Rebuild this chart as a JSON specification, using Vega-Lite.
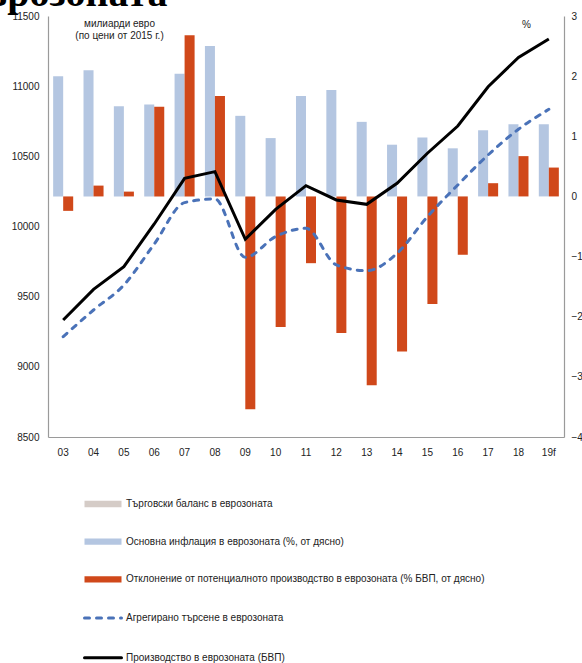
{
  "$schema": "https://vega.github.io/schema/vega-lite/v6.json",
  "autosize": {"type": "none"},
  "padding": {"left": 48, "top": 16, "right": 18, "bottom": 226},
  "width": 516,
  "height": 421,
  "title": {
    "text": "еврозоната",
    "font": "Liberation Serif",
    "fontSize": 40,
    "fontWeight": "bold",
    "color": "#000000",
    "anchor": "start",
    "frame": "group",
    "baseline": "alphabetic",
    "offset": -35,
    "dx": -80
  },
  "datasets": {
    "bars": [
      {"year": "03", "series": "Основна инфлация  в еврозоната (%, от дясно)", "value": 2.0},
      {"year": "04", "series": "Основна инфлация  в еврозоната (%, от дясно)", "value": 2.1},
      {"year": "05", "series": "Основна инфлация  в еврозоната (%, от дясно)", "value": 1.5},
      {"year": "06", "series": "Основна инфлация  в еврозоната (%, от дясно)", "value": 1.53},
      {"year": "07", "series": "Основна инфлация  в еврозоната (%, от дясно)", "value": 2.04},
      {"year": "08", "series": "Основна инфлация  в еврозоната (%, от дясно)", "value": 2.5},
      {"year": "09", "series": "Основна инфлация  в еврозоната (%, от дясно)", "value": 1.34},
      {"year": "10", "series": "Основна инфлация  в еврозоната (%, от дясно)", "value": 0.97},
      {"year": "11", "series": "Основна инфлация  в еврозоната (%, от дясно)", "value": 1.67},
      {"year": "12", "series": "Основна инфлация  в еврозоната (%, от дясно)", "value": 1.77},
      {"year": "13", "series": "Основна инфлация  в еврозоната (%, от дясно)", "value": 1.24},
      {"year": "14", "series": "Основна инфлация  в еврозоната (%, от дясно)", "value": 0.86},
      {"year": "15", "series": "Основна инфлация  в еврозоната (%, от дясно)", "value": 0.98},
      {"year": "16", "series": "Основна инфлация  в еврозоната (%, от дясно)", "value": 0.8},
      {"year": "17", "series": "Основна инфлация  в еврозоната (%, от дясно)", "value": 1.1},
      {"year": "18", "series": "Основна инфлация  в еврозоната (%, от дясно)", "value": 1.2},
      {"year": "19f", "series": "Основна инфлация  в еврозоната (%, от дясно)", "value": 1.2},
      {"year": "03", "series": "Отклонение  от потенциалното  производство в еврозоната (% БВП, от дясно)", "value": -0.24},
      {"year": "04", "series": "Отклонение  от потенциалното  производство в еврозоната (% БВП, от дясно)", "value": 0.18},
      {"year": "05", "series": "Отклонение  от потенциалното  производство в еврозоната (% БВП, от дясно)", "value": 0.08},
      {"year": "06", "series": "Отклонение  от потенциалното  производство в еврозоната (% БВП, от дясно)", "value": 1.49},
      {"year": "07", "series": "Отклонение  от потенциалното  производство в еврозоната (% БВП, от дясно)", "value": 2.68},
      {"year": "08", "series": "Отклонение  от потенциалното  производство в еврозоната (% БВП, от дясно)", "value": 1.67},
      {"year": "09", "series": "Отклонение  от потенциалното  производство в еврозоната (% БВП, от дясно)", "value": -3.54},
      {"year": "10", "series": "Отклонение  от потенциалното  производство в еврозоната (% БВП, от дясно)", "value": -2.17},
      {"year": "11", "series": "Отклонение  от потенциалното  производство в еврозоната (% БВП, от дясно)", "value": -1.11},
      {"year": "12", "series": "Отклонение  от потенциалното  производство в еврозоната (% БВП, от дясно)", "value": -2.27},
      {"year": "13", "series": "Отклонение  от потенциалното  производство в еврозоната (% БВП, от дясно)", "value": -3.14},
      {"year": "14", "series": "Отклонение  от потенциалното  производство в еврозоната (% БВП, от дясно)", "value": -2.58},
      {"year": "15", "series": "Отклонение  от потенциалното  производство в еврозоната (% БВП, от дясно)", "value": -1.79},
      {"year": "16", "series": "Отклонение  от потенциалното  производство в еврозоната (% БВП, от дясно)", "value": -0.97},
      {"year": "17", "series": "Отклонение  от потенциалното  производство в еврозоната (% БВП, от дясно)", "value": 0.22},
      {"year": "18", "series": "Отклонение  от потенциалното  производство в еврозоната (% БВП, от дясно)", "value": 0.67},
      {"year": "19f", "series": "Отклонение  от потенциалното  производство в еврозоната (% БВП, от дясно)", "value": 0.48}
    ],
    "lines": [
      {"year": "03", "series": "Агрегирано  търсене в еврозоната", "value": 9215},
      {"year": "04", "series": "Агрегирано  търсене в еврозоната", "value": 9405},
      {"year": "05", "series": "Агрегирано  търсене в еврозоната", "value": 9583},
      {"year": "06", "series": "Агрегирано  търсене в еврозоната", "value": 9875},
      {"year": "07", "series": "Агрегирано  търсене в еврозоната", "value": 10170},
      {"year": "08", "series": "Агрегирано  търсене в еврозоната", "value": 10196},
      {"year": "09", "series": "Агрегирано  търсене в еврозоната", "value": 9780},
      {"year": "10", "series": "Агрегирано  търсене в еврозоната", "value": 9928},
      {"year": "11", "series": "Агрегирано  търсене в еврозоната", "value": 9987},
      {"year": "12", "series": "Агрегирано  търсене в еврозоната", "value": 9726},
      {"year": "13", "series": "Агрегирано  търсене в еврозоната", "value": 9685},
      {"year": "14", "series": "Агрегирано  търсене в еврозоната", "value": 9809},
      {"year": "15", "series": "Агрегирано  търсене в еврозоната", "value": 10070},
      {"year": "16", "series": "Агрегирано  търсене в еврозоната", "value": 10296},
      {"year": "17", "series": "Агрегирано  търсене в еврозоната", "value": 10510},
      {"year": "18", "series": "Агрегирано  търсене в еврозоната", "value": 10693},
      {"year": "19f", "series": "Агрегирано  търсене в еврозоната", "value": 10835},
      {"year": "03", "series": "Производство в еврозоната (БВП)", "value": 9334},
      {"year": "04", "series": "Производство в еврозоната (БВП)", "value": 9552},
      {"year": "05", "series": "Производство в еврозоната (БВП)", "value": 9714},
      {"year": "06", "series": "Производство в еврозоната (БВП)", "value": 10018},
      {"year": "07", "series": "Производство в еврозоната (БВП)", "value": 10343},
      {"year": "08", "series": "Производство в еврозоната (БВП)", "value": 10391},
      {"year": "09", "series": "Производство в еврозоната (БВП)", "value": 9909},
      {"year": "10", "series": "Производство в еврозоната (БВП)", "value": 10122},
      {"year": "11", "series": "Производство в еврозоната (БВП)", "value": 10291},
      {"year": "12", "series": "Производство в еврозоната (БВП)", "value": 10189},
      {"year": "13", "series": "Производство в еврозоната (БВП)", "value": 10158},
      {"year": "14", "series": "Производство в еврозоната (БВП)", "value": 10308},
      {"year": "15", "series": "Производство в еврозоната (БВП)", "value": 10522},
      {"year": "16", "series": "Производство в еврозоната (БВП)", "value": 10716},
      {"year": "17", "series": "Производство в еврозоната (БВП)", "value": 10996},
      {"year": "18", "series": "Производство в еврозоната (БВП)", "value": 11205},
      {"year": "19f", "series": "Производство в еврозоната (БВП)", "value": 11336}
    ]
  },
  "encoding": {
    "x": {
      "field": "year",
      "type": "nominal",
      "scale": {
        "domain": ["03","04","05","06","07","08","09","10","11","12","13","14","15","16","17","18","19f"],
        "paddingInner": 0.34,
        "paddingOuter": 0.17
      },
      "axis": {
        "title": null,
        "labelAngle": 0,
        "ticks": false,
        "tickSize": 0,
        "labelPadding": 10,
        "labelFontSize": 10,
        "labelFont": "Liberation Sans",
        "labelColor": "#222222",
        "domainColor": "#9A9A9A",
        "domainWidth": 1.2,
        "grid": false
      }
    },
    "color": {
      "field": "series",
      "type": "nominal",
      "scale": {
        "domain": [
          "Търговски баланс в еврозоната",
          "Основна инфлация  в еврозоната (%, от дясно)",
          "Отклонение  от потенциалното  производство в еврозоната (% БВП, от дясно)",
          "Агрегирано  търсене в еврозоната",
          "Производство в еврозоната (БВП)"
        ],
        "range": ["#D5CCC7", "#B4C6E1", "#D0481A", "#4A72B8", "#000000"]
      },
      "legend": {
        "orient": "none",
        "legendX": 50,
        "legendY": 483,
        "direction": "vertical",
        "title": null,
        "symbolSize": 1369,
        "labelFontSize": 10,
        "labelFont": "Liberation Sans",
        "labelColor": "#222222",
        "labelOffset": 18,
        "labelLimit": 500,
        "rowPadding": 27.7,
        "encode": {
          "symbols": {
            "update": {
              "shape": {"signal": "indexof(domain('color'), datum.value) >= 3 ? 'M-1,0H1' : 'M-1,-0.17H1V0.17H-1Z'"},
              "fill": {"signal": "indexof(domain('color'), datum.value) >= 3 ? 'transparent' : scale('color', datum.value)"},
              "stroke": {"signal": "indexof(domain('color'), datum.value) >= 3 ? scale('color', datum.value) : 'transparent'"},
              "strokeWidth": {"signal": "indexof(domain('color'), datum.value) >= 3 ? 3 : 0"},
              "strokeDash": {"signal": "indexof(domain('color'), datum.value) == 3 ? [5, 7] : [1, 0]"},
              "strokeCap": {"value": "round"},
              "opacity": {"value": 1}
            }
          }
        }
      }
    }
  },
  "layer": [
    {
      "data": {"name": "bars"},
      "mark": {"type": "bar"},
      "encoding": {
        "xOffset": {
          "field": "series",
          "type": "nominal",
          "scale": {
            "domain": [
              "Основна инфлация  в еврозоната (%, от дясно)",
              "Отклонение  от потенциалното  производство в еврозоната (% БВП, от дясно)"
            ],
            "paddingInner": 0,
            "paddingOuter": 0
          }
        },
        "y": {
          "field": "value",
          "type": "quantitative",
          "scale": {"domain": [-4, 3], "nice": false, "zero": true},
          "axis": {
            "orient": "right",
            "values": [-4, -3, -2, -1, 0, 1, 2, 3],
            "ticks": false,
            "tickSize": 0,
            "grid": false,
            "labelPadding": 7,
            "labelFontSize": 10,
            "labelFont": "Liberation Sans",
            "labelColor": "#222222",
            "domainColor": "#9A9A9A",
            "domainWidth": 1.2,
            "title": "%",
            "titleAngle": 0,
            "titleAlign": "center",
            "titleBaseline": "top",
            "titleX": -38,
            "titleY": 3,
            "titleFont": "Liberation Sans",
            "titleFontSize": 10,
            "titleFontWeight": "normal",
            "titleColor": "#222222"
          }
        }
      }
    },
    {
      "data": {"name": "lines"},
      "transform": [{"filter": "datum.series == 'Агрегирано  търсене в еврозоната'"}],
      "mark": {"type": "line", "strokeWidth": 3, "strokeDash": [5, 7], "strokeCap": "round", "interpolate": "monotone"},
      "encoding": {
        "y": {
          "field": "value",
          "type": "quantitative",
          "scale": {"domain": [8500, 11500], "nice": false, "zero": false},
          "axis": {
            "orient": "left",
            "values": [8500, 9000, 9500, 10000, 10500, 11000, 11500],
            "format": "d",
            "ticks": false,
            "tickSize": 0,
            "grid": false,
            "labelPadding": 9,
            "labelFontSize": 10,
            "labelFont": "Liberation Sans",
            "labelColor": "#222222",
            "domainColor": "#9A9A9A",
            "domainWidth": 1.2,
            "title": ["милиарди  евро", "(по цени от 2015 г.)"],
            "titleAngle": 0,
            "titleAlign": "center",
            "titleBaseline": "top",
            "titleX": 71,
            "titleY": 2,
            "titleFont": "Liberation Sans",
            "titleFontSize": 10,
            "titleFontWeight": "normal",
            "titleLineHeight": 12,
            "titleColor": "#222222"
          }
        }
      }
    },
    {
      "data": {"name": "lines"},
      "transform": [{"filter": "datum.series == 'Производство в еврозоната (БВП)'"}],
      "mark": {"type": "line", "strokeWidth": 3, "interpolate": "linear"},
      "encoding": {
        "y": {"field": "value", "type": "quantitative", "scale": {"domain": [8500, 11500], "nice": false, "zero": false}, "axis": null}
      }
    }
  ],
  "resolve": {"scale": {"y": "independent"}, "axis": {"y": "independent"}},
  "config": {
    "view": {"stroke": null},
    "background": "#ffffff"
  }
}
